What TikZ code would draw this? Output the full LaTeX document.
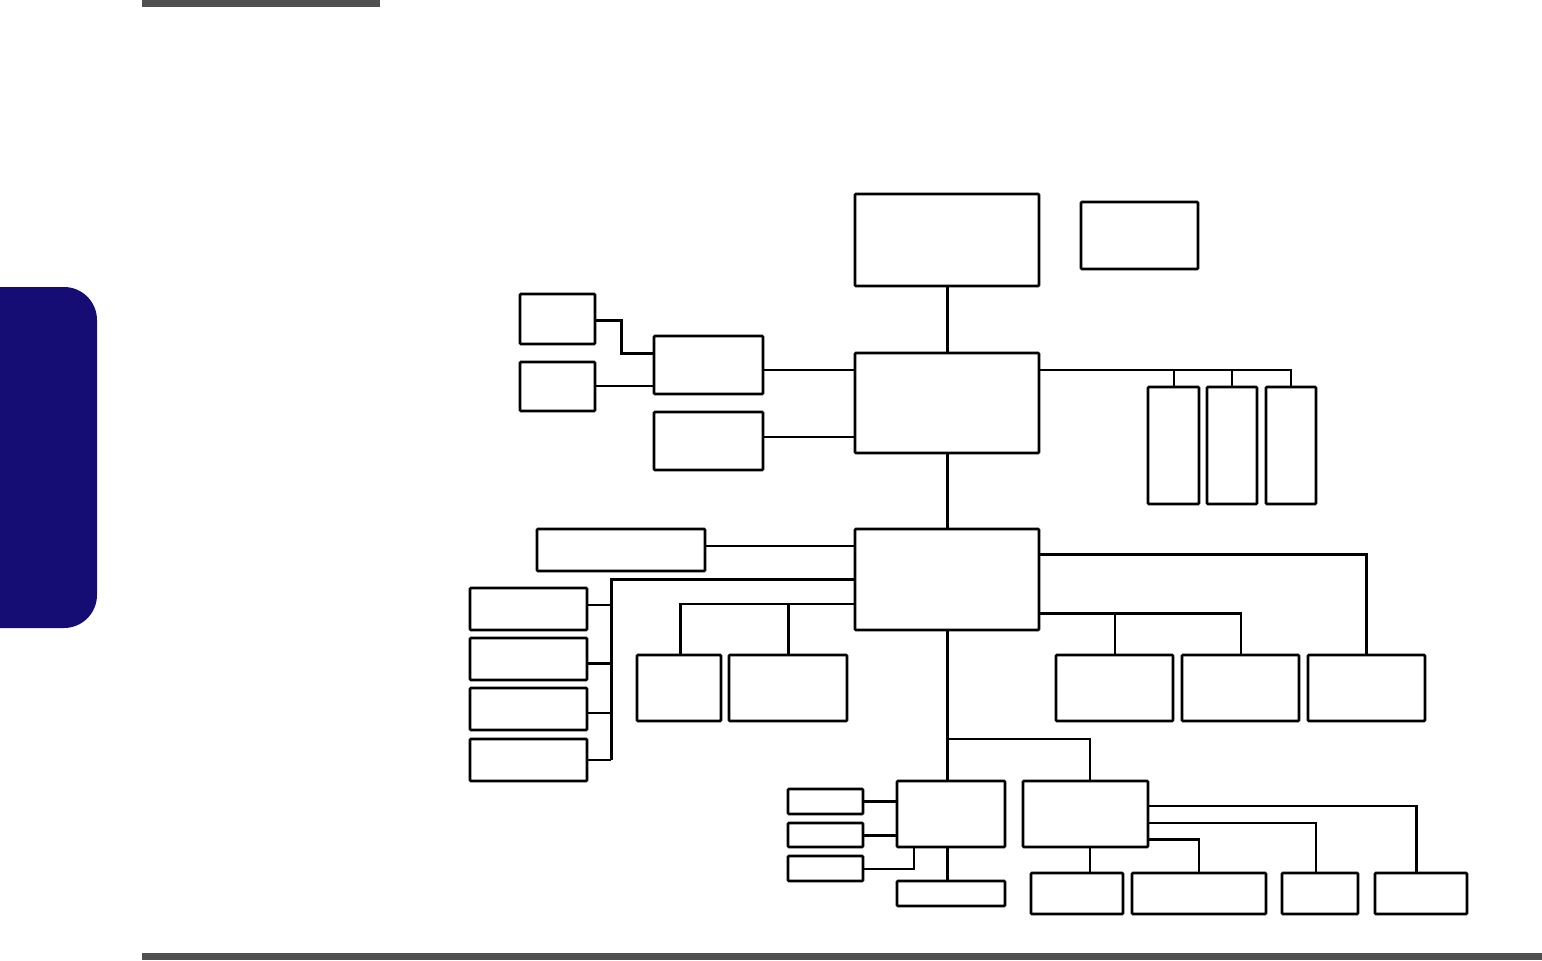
\documentclass[tikz,border=0pt]{standalone}
\definecolor{tabblue}{RGB}{21,12,116}
\definecolor{bargray}{RGB}{80,80,80}
\tikzset{
  bx/.style={draw=black,line width=2.6pt,rounded corners=1pt,inner sep=0pt,outer sep=0pt,fill=white},
  thinw/.style={line width=2pt},
  thickw/.style={line width=3pt},
}
\newcommand\bx[5]{\node[bx,minimum width={(#4-#2)*1pt},minimum height={(#5-#3)*1pt}] (#1) at ({(#2+#4)/2},{(#3+#5)/2}) {};}
\begin{document}
\begin{tikzpicture}[x=1pt,y=-1pt]
\useasboundingbox (0,0) rectangle (1542,961);
% page decorations
\fill[bargray] (142,0) rectangle (380,7);
\fill[bargray] (142,953) rectangle (1542,960);
\begin{scope}
\clip (0,0) rectangle (1542,961);
\fill[tabblue,rounded corners=33pt] (-50,287) rectangle (97,628);
\end{scope}
% boxes
\bx{cpu}{855}{194}{1039}{286}
\bx{rt}{1081}{202}{1198}{269}
\bx{nb}{855}{353}{1039}{453}
\bx{a}{520}{294}{595}{344}
\bx{b}{520}{362}{595}{411}
\bx{c}{654}{336}{763}{394}
\bx{d}{654}{412}{763}{470}
\bx{t1}{1148}{387}{1199}{504}
\bx{t2}{1207}{387}{1257}{504}
\bx{t3}{1266}{387}{1316}{504}
\bx{sb}{855}{529}{1039}{630}
\bx{w}{537}{529}{705}{571}
\bx{s1}{470}{588}{587}{630}
\bx{s2}{470}{638}{587}{680}
\bx{s3}{470}{688}{587}{730}
\bx{s4}{470}{739}{587}{781}
\bx{m1}{637}{655}{721}{721}
\bx{m2}{729}{655}{847}{721}
\bx{r1}{1056}{655}{1173}{721}
\bx{r2}{1182}{655}{1299}{721}
\bx{r3}{1308}{655}{1425}{721}
\bx{e}{897}{781}{1005}{847}
\bx{f}{1023}{781}{1148}{847}
\bx{p1}{788}{789}{863}{814}
\bx{p2}{788}{823}{863}{847}
\bx{p3}{788}{856}{863}{881}
\bx{q}{897}{881}{1005}{906}
\bx{u1}{1031}{873}{1123}{914}
\bx{u2}{1132}{873}{1266}{914}
\bx{u3}{1282}{873}{1358}{914}
\bx{u4}{1375}{873}{1467}{914}
% connectors
\draw[thickw] (cpu.south) -- (nb.north);
\draw[thickw] (nb.south) -- (sb.north);
\draw[thinw] (nb.east |- 0,370) -| (t3.north);
\draw[thinw] (t1.north) -- (t1.north |- 0,370);
\draw[thinw] (t2.north) -- (t2.north |- 0,370);
\draw[thinw] (c.east |- 0,370) -- (nb.west |- 0,370);
\draw[thinw] (d.east |- 0,437) -- (nb.west |- 0,437);
\draw[thickw] (a.east |- 0,320) -- (621,320) -- (621,353) -- (c.west |- 0,353);
\draw[thinw] (b.east |- 0,386) -- (c.west |- 0,386);
\draw[thinw] (w.east |- 0,546) -- (sb.west |- 0,546);
\coordinate (bus) at (611,760);
\draw[thickw] (sb.west |- 0,579) -- (611,579) -- (bus);
\draw[thinw] (s1.east |- 0,605) -- (611,605);
\draw[thickw] (s2.east |- 0,663) -- (611,663);
\draw[thinw] (s3.east |- 0,713) -- (611,713);
\draw[thinw] (s4.east |- 0,760) -- (bus);
\draw[thinw] (sb.west |- 0,604) -- (680,604);
\draw[thickw] (680,603) -- (m1.north -| 680,0);
\draw[thickw] (m2.north) -- (m2.north |- 0,603);
\draw[thickw] (sb.east |- 0,554) -| (r3.north);
\draw[thickw] (sb.east |- 0,613) -- (1241,613);
\draw[thinw] (r2.north) -- (r2.north |- 0,612);
\draw[thinw] (r1.north) -- (r1.north |- 0,612);
\draw[thickw] (sb.south) -- (e.north -| sb.south);
\draw[thinw] (947,739) -- (1090,739) -- (f.north -| 1090,0);
\draw[thickw] (p1.east) -- (e.west |- p1.east);
\draw[thickw] (p2.east) -- (e.west |- p2.east);
\draw[thinw] (p3.east |- 0,869) -- (914,869) -- (e.south -| 914,0);
\draw[thickw] (e.south -| 947,0) -- (q.north -| 947,0);
\draw[thinw] (f.south -| 1090,0) -- (u1.north -| 1090,0);
\draw[thinw] (f.east |- 0,806) -- (1416,806);
\draw[thickw] (1416,805) -- (u4.north -| 1416,0);
\draw[thinw] (f.east |- 0,823) -- (1316,823) -- (u3.north -| 1316,0);
\draw[thickw] (f.east |- 0,839) -- (1199,839);
\draw[thinw] (1199,838) -- (u2.north);
\end{tikzpicture}
\end{document}
